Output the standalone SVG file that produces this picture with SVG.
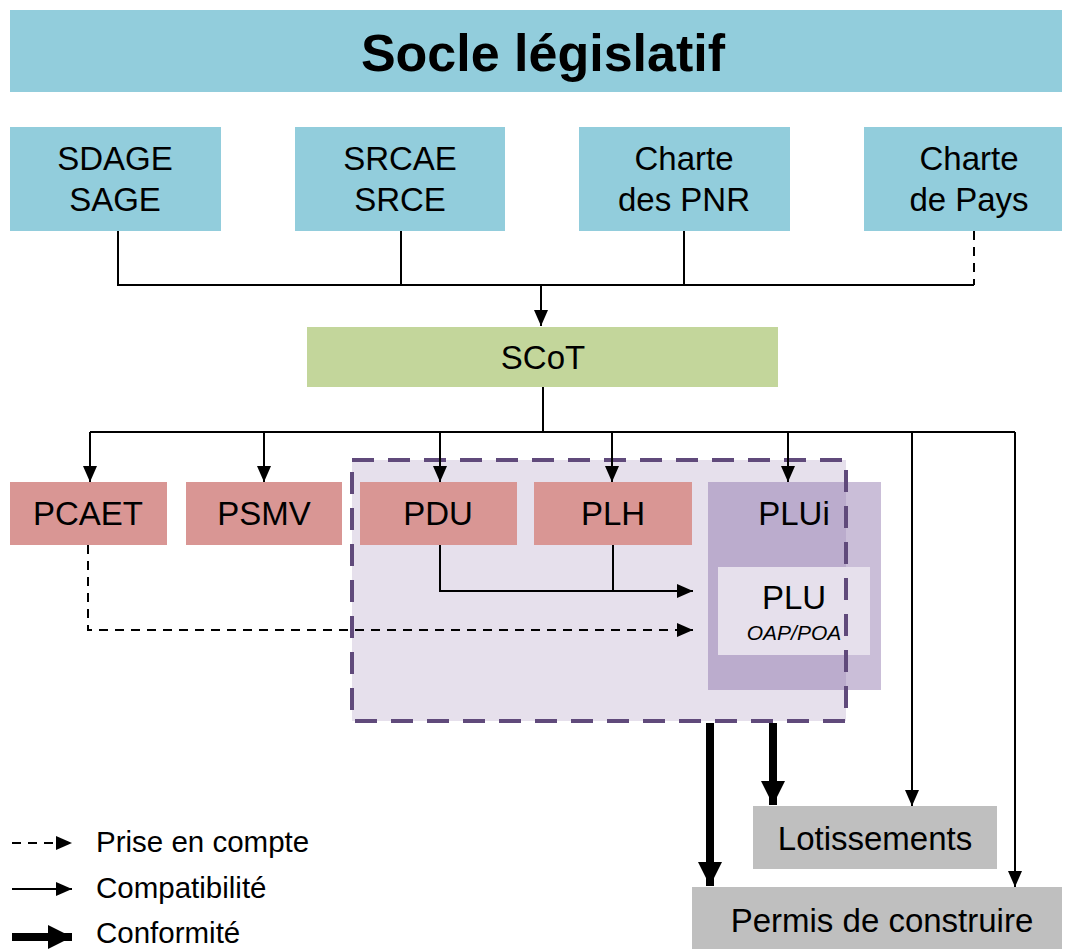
<svg xmlns="http://www.w3.org/2000/svg" width="1067" height="949" viewBox="0 0 1067 949">
<defs>
<style>
text{font-family:"Liberation Sans",Arial,sans-serif;fill:#000;text-anchor:middle}
.lbl{font-size:33px}
.blue{fill:#92CDDC}
.red{fill:#D99694}
.gray{fill:#BFBFBF}
.ln{fill:none;stroke:#000;stroke-width:2}
.dash{stroke-dasharray:9 7}
.thick{fill:none;stroke:#000;stroke-width:8}
.leg{font-size:29.5px;text-anchor:start}
</style>
<marker id="a" markerUnits="userSpaceOnUse" markerWidth="16" markerHeight="14" viewBox="0 0 16 14" refX="16" refY="7" orient="auto"><path d="M0,0L16,7L0,14Z" fill="#000"/></marker>
<marker id="b" markerUnits="userSpaceOnUse" markerWidth="24" markerHeight="24" viewBox="0 0 24 24" refX="24" refY="12" orient="auto"><path d="M0,0L24,12L0,24Z" fill="#000"/></marker>
</defs>
<g id="title"><rect x="10" y="10" width="1052" height="82" class="blue"/><text x="543" y="71" style="font-size:52px;font-weight:bold">Socle législatif</text></g>
<g id="sdage"><rect x="10" y="127" width="211" height="104" class="blue"/><text class="lbl" x="115" y="170">SDAGE</text><text class="lbl" x="115" y="211">SAGE</text></g>
<g id="srcae"><rect x="295" y="127" width="210" height="104" class="blue"/><text class="lbl" x="400" y="170">SRCAE</text><text class="lbl" x="400" y="211">SRCE</text></g>
<g id="pnr"><rect x="579" y="127" width="211" height="104" class="blue"/><text class="lbl" x="684" y="170">Charte</text><text class="lbl" x="684" y="211">des PNR</text></g>
<g id="pays"><rect x="864" y="127" width="198" height="104" class="blue"/><text class="lbl" x="969" y="170">Charte</text><text class="lbl" x="969" y="211">de Pays</text></g>
<g id="scot"><rect x="307" y="327" width="471" height="60" fill="#C3D69B"/><text class="lbl" x="543" y="369">SCoT</text></g>
<g id="pcaet"><rect x="10" y="482" width="157" height="63" class="red"/><text class="lbl" x="88" y="525">PCAET</text></g>
<g id="psmv"><rect x="186" y="482" width="156" height="63" class="red"/><text class="lbl" x="264" y="525">PSMV</text></g>
<g id="groupe"><rect x="352" y="460" width="494" height="261" fill="#E6E0EC"/></g>
<g id="pdu"><rect x="360" y="482" width="157" height="63" class="red"/><text class="lbl" x="438" y="525">PDU</text></g>
<g id="plh"><rect x="534" y="482" width="158" height="63" class="red"/><text class="lbl" x="613" y="525">PLH</text></g>
<g id="plui"><rect x="708" y="482" width="173" height="208" fill="#8064A2" fill-opacity="0.42"/><text class="lbl" x="794" y="525">PLUi</text></g>
<g id="plu"><rect x="718" y="567" width="152" height="88" fill="#E6E0EC"/><text class="lbl" x="794" y="609">PLU</text><text x="794" y="640" style="font-size:21px;font-style:italic">OAP/POA</text></g>
<g id="groupe-bord"><rect x="352" y="460" width="494" height="261" fill="none" stroke="#604A7B" stroke-width="4" stroke-dasharray="22 14"/></g>
<g id="lotissements"><rect x="753" y="806" width="244" height="63" class="gray"/><text class="lbl" x="875" y="850">Lotissements</text></g>
<g id="permis"><rect x="692" y="887" width="370" height="62" class="gray"/><text class="lbl" x="882" y="932">Permis de construire</text></g>
<g id="connectors">
<path class="ln" d="M118,231V285H974M401,231V285M684,231V285"/>
<path class="ln dash" d="M974,231V285"/>
<path class="ln" d="M541,285V326" marker-end="url(#a)"/>
<path class="ln" d="M543,387V432M90,432H1015"/>
<path class="ln" d="M90,432V482" marker-end="url(#a)"/>
<path class="ln" d="M264,432V482" marker-end="url(#a)"/>
<path class="ln" d="M440,432V482" marker-end="url(#a)"/>
<path class="ln" d="M612,432V482" marker-end="url(#a)"/>
<path class="ln" d="M788,432V482" marker-end="url(#a)"/>
<path class="ln" d="M912,432V806" marker-end="url(#a)"/>
<path class="ln" d="M1015,432V887" marker-end="url(#a)"/>
<path class="ln" d="M440,545V591H693" marker-end="url(#a)"/>
<path class="ln" d="M613,545V591"/>
<path class="ln dash" d="M88,545V630H693" marker-end="url(#a)"/>
<path class="thick" d="M710,723V886" marker-end="url(#b)"/>
<path class="thick" d="M773,723V805" marker-end="url(#b)"/>
</g>
<g id="legend">
<path class="ln dash" d="M12,843H72" marker-end="url(#a)"/>
<text class="leg" x="96" y="852">Prise en compte</text>
<path class="ln" d="M12,889H72" marker-end="url(#a)"/>
<text class="leg" x="96" y="898">Compatibilité</text>
<path class="thick" d="M12,937H72" marker-end="url(#b)"/>
<text class="leg" x="96" y="943">Conformité</text>
</g>
</svg>
